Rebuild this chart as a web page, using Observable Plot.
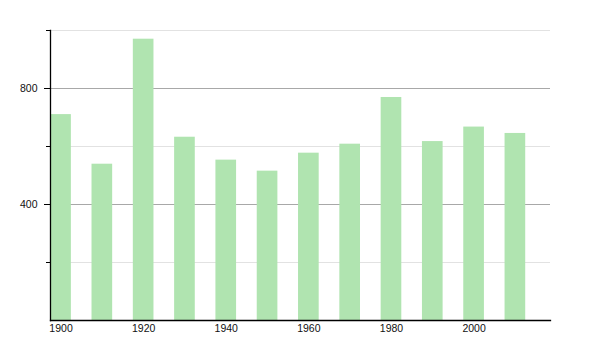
<!DOCTYPE html>
<html>
<head>
<meta charset="utf-8">
<script src="https://cdn.jsdelivr.net/npm/d3@7"></script>
<script src="https://cdn.jsdelivr.net/npm/@observablehq/plot@0.6"></script>
<style>
  html, body { margin: 0; padding: 0; background: #fff; }
  svg { display: block; }
</style>
</head>
<body>
<div id="chart"></div>
<script>
const years = [1900, 1910, 1920, 1930, 1940, 1950, 1960, 1970, 1980, 1990, 2000, 2010];
const population = [710, 539, 970, 632, 553, 515, 577, 608, 769, 617, 667, 645];
const xTickYears = [1900, 1920, 1940, 1960, 1980, 2000];
const yLabelTicks = [400, 800];
const yMinorTicks = [200, 600, 1000];

const data = years.map((year, i) => ({year, value: population[i]}));

const plot = Plot.plot({
  width: 600,
  height: 350,
  marginLeft: 50,
  marginRight: 50,
  marginTop: 30,
  marginBottom: 30,
  style: {fontFamily: "'Liberation Sans', Arial, sans-serif", fontSize: "10.5px", color: "#111", background: "#fff"},
  x: {domain: [1897.45, 2018.5]},
  y: {domain: [0, 1000]},
  marks: [
    Plot.ruleY(yMinorTicks, {stroke: "#e2e2e2", strokeWidth: 1}),
    Plot.ruleY(yLabelTicks, {stroke: "#a8a8a8", strokeWidth: 1}),
    Plot.rectY(data, {x1: d => d.year - 2.5, x2: d => d.year + 2.5, y: "value", fill: "#b0e4b0"}),
    Plot.axisY(yMinorTicks, {tickSize: 4, tickFormat: () => "", label: null, stroke: "#000"}),
    Plot.axisY(yLabelTicks, {tickSize: 6, tickPadding: 7, label: null, stroke: "#000", tickFormat: d => String(d)}),
    Plot.axisX(xTickYears, {tickSize: 0, tickPadding: 4, label: null, tickFormat: d => String(d)}),
    Plot.frame({anchor: "left", stroke: "#000", strokeWidth: 1.3}),
    Plot.frame({anchor: "bottom", stroke: "#000", strokeWidth: 1.3})
  ]
});
document.getElementById("chart").appendChild(plot);
</script>
</body>
</html>
